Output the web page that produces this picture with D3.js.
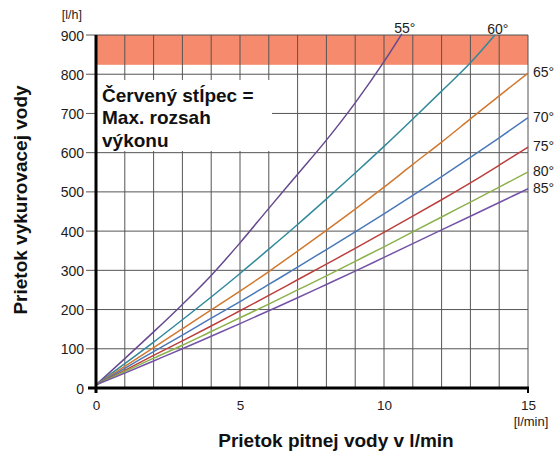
<!DOCTYPE html>
<html>
<head>
<meta charset="utf-8">
<script src="https://cdn.jsdelivr.net/npm/d3@7"></script>
<style>
  body { margin: 0; background: #fff; }
  svg { display: block; font-family: "Liberation Sans", Arial, sans-serif; }
</style>
</head>
<body>
<svg id="chart" width="558" height="453"></svg>
<script>
// data
const xTicks = [0, 5, 10, 15];
const yTicks = [0, 100, 200, 300, 400, 500, 600, 700, 800, 900];
const xGrid = d3.range(1, 16);
const maxBand = [824, 900];

const xFull = [0, 1, 2, 3, 4, 5, 6, 7, 8, 9, 10, 11, 12, 13, 14, 15];
const x55 = [0, 1, 2, 3, 4, 5, 6, 7, 8, 9, 10, 10.62];
const x60 = [0, 1, 2, 3, 4, 5, 6, 7, 8, 9, 10, 11, 12, 13, 13.85];

const y55 = [8, 75, 143, 213, 287, 370, 458, 545, 632, 727, 832, 903];
const y60 = [8, 62, 117, 174, 232, 292, 354, 417, 482, 548, 616, 686, 757, 829, 900];
const y65 = [8, 55, 103, 151, 199, 247, 297, 349, 402, 456, 512, 570, 627, 686, 745, 803];
const y70 = [8, 50, 93, 135, 178, 220, 264, 308, 353, 398, 444, 491, 539, 588, 638, 689];
const y75 = [8, 45, 83, 120, 158, 197, 236, 276, 316, 356, 397, 438, 480, 523, 568, 614];
const y80 = [8, 42, 76, 109, 144, 179, 214, 250, 286, 323, 360, 398, 436, 474, 512, 551];
const y85 = [8, 38, 69, 100, 132, 164, 197, 230, 264, 298, 333, 368, 403, 438, 473, 508];

const series = [
  { label: "55°", xs: x55, ys: y55, color: "#65498f", top: true },
  { label: "60°", xs: x60, ys: y60, color: "#31899b", top: true },
  { label: "65°", xs: xFull, ys: y65, color: "#d0782f" },
  { label: "70°", xs: xFull, ys: y70, color: "#4a78b8" },
  { label: "75°", xs: xFull, ys: y75, color: "#bb3f3c" },
  { label: "80°", xs: xFull, ys: y80, color: "#8bb14a" },
  { label: "85°", xs: xFull, ys: y85, color: "#7453a6" }
];

const noteLines = ["Červený stĺpec =", "Max. rozsah", "výkonu"];

let svg = d3.select("#chart");
let textColor = "#1c1c1c";

let x = d3.scaleLinear().domain([0, 15]).range([96, 528]);
let y = d3.scaleLinear().domain([0, 900]).range([388, 35]);

// red band = max range
svg.append("rect")
  .attr("x", x(0))
  .attr("y", y(maxBand[1]))
  .attr("width", x(15) - x(0))
  .attr("height", y(maxBand[0]) - y(maxBand[1]))
  .attr("fill", "#f58a6c");

// grid
let grid = svg.append("g").attr("stroke", "#555").attr("stroke-width", 1);
grid.selectAll("line.v")
  .data(xGrid)
  .enter()
  .append("line")
  .attr("x1", d => x(d)).attr("x2", d => x(d))
  .attr("y1", y(900)).attr("y2", y(0));
grid.selectAll("line.h")
  .data(yTicks.slice(1))
  .enter()
  .append("line")
  .attr("x1", x(0) - 10).attr("x2", x(15))
  .attr("y1", d => y(d)).attr("y2", d => y(d));

// white box behind the note
svg.append("rect")
  .attr("x", 97).attr("y", 80)
  .attr("width", 175).attr("height", 71)
  .attr("fill", "#fff");

svg.append("text")
  .attr("x", 102).attr("y", 101.5)
  .attr("font-size", "19px").attr("font-weight", "bold").attr("fill", "#111")
  .selectAll("tspan")
  .data(noteLines)
  .enter()
  .append("tspan")
  .attr("x", 102)
  .attr("dy", (d, i) => i === 0 ? 0 : 22.5)
  .text(d => d);

// curves
let line = d3.line()
  .x(d => x(d[0]))
  .y(d => y(d[1]))
  .curve(d3.curveMonotoneX);

series.forEach(s => {
  let pts = s.xs.map((v, i) => [v, s.ys[i]]);
  svg.append("path")
    .datum(pts)
    .attr("d", line)
    .attr("fill", "none")
    .attr("stroke", s.color)
    .attr("stroke-width", 1.5);

  let last = pts[pts.length - 1];
  let t = svg.append("text")
    .attr("font-size", "14px")
    .attr("fill", textColor)
    .text(s.label);
  if (s.top) {
    t.attr("x", x(last[0]) + 3).attr("y", y(last[1]) - 1).attr("text-anchor", "middle");
  } else {
    t.attr("x", x(15) + 5).attr("y", y(last[1]) + 4);
  }
});

// axes
let yAxis = d3.axisLeft(y).tickValues(yTicks).tickSize(0).tickPadding(12);
let gy = svg.append("g").attr("transform", "translate(" + x(0) + ",0)").call(yAxis);
gy.select(".domain").remove();
gy.selectAll("text")
  .attr("font-size", "14px").attr("font-family", null).attr("fill", textColor)
  .attr("dy", "0.36em");

let xAxis = d3.axisBottom(x).tickValues(xTicks).tickSize(0).tickPadding(12);
let gx = svg.append("g").attr("transform", "translate(0," + y(0) + ")").call(xAxis);
gx.select(".domain").remove();
gx.selectAll("text")
  .attr("font-size", "13.5px").attr("font-family", null).attr("fill", textColor)
  .attr("dy", "0.71em");

svg.append("line")
  .attr("x1", x(0)).attr("x2", x(0))
  .attr("y1", y(900)).attr("y2", y(0) + 5)
  .attr("stroke", "#000").attr("stroke-width", 3);
svg.append("line")
  .attr("x1", x(0) - 8).attr("x2", x(15) + 1)
  .attr("y1", y(0)).attr("y2", y(0))
  .attr("stroke", "#000").attr("stroke-width", 3);
svg.append("line")
  .attr("x1", x(15)).attr("x2", x(15))
  .attr("y1", y(0)).attr("y2", y(0) + 5)
  .attr("stroke", "#000").attr("stroke-width", 2);

// units
svg.append("text")
  .attr("x", 82).attr("y", 19)
  .attr("text-anchor", "end")
  .attr("font-size", "12.5px").attr("fill", textColor)
  .text("[l/h]");
svg.append("text")
  .attr("x", 531).attr("y", 426)
  .attr("text-anchor", "middle")
  .attr("font-size", "13px").attr("fill", textColor)
  .text("[l/min]");

// titles
svg.append("text")
  .attr("x", 336).attr("y", 447)
  .attr("text-anchor", "middle")
  .attr("font-size", "19px").attr("font-weight", "bold").attr("fill", "#111")
  .text("Prietok pitnej vody v l/min");
svg.append("text")
  .attr("transform", "translate(27,200) rotate(-90)")
  .attr("text-anchor", "middle")
  .attr("font-size", "19px").attr("font-weight", "bold").attr("fill", "#111")
  .text("Prietok vykurovacej vody");
</script>
</body>
</html>
